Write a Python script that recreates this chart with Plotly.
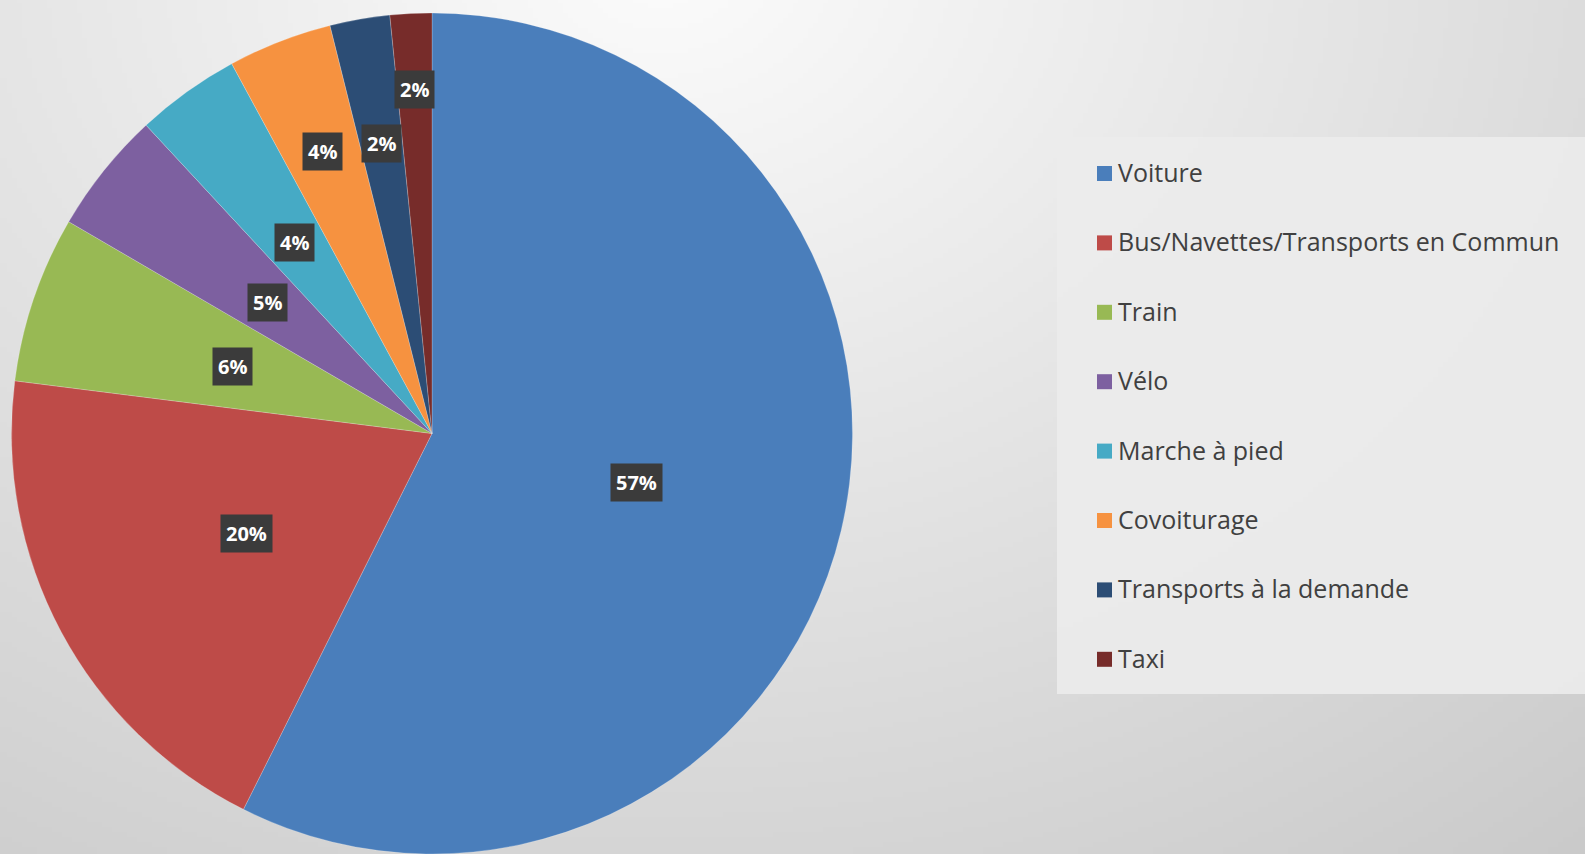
import math, zlib, struct, base64
import numpy as np
import plotly.graph_objects as go

# ---- data ----
categories = ["Voiture", "Bus/Navettes/Transports en Commun", "Train", "Vélo",
              "Marche à pied", "Covoiturage", "Transports à la demande", "Taxi"]
values = [57.4, 19.6, 6.4, 4.7, 4.0, 4.0, 2.3, 1.6]
colors = ["#4A7EBB", "#BE4B48", "#98B954", "#7D60A0", "#46AAC5", "#F69240", "#2C4D75", "#772C2A"]
label_radius = [0.5, 0.5, 0.5, 0.5, 0.56, 0.72, 0.70, 0.82]

W, H = 1585, 854
cx, cy, R = 432, 434, 421

# ---- background gradient image (PNG built by hand) ----
def gradient_png(w, h):
    xs = np.linspace(0, W, w)[None, :]
    ys = np.linspace(0, H, h)[:, None]
    dx = (xs - 660) * 0.034
    dy = (ys + 40) * 0.043
    v = 252 - np.sqrt(dx ** 2 + dy ** 2)
    v = np.clip(v, 190, 252).astype(np.uint8)
    rgb = np.stack([v, v, v], axis=-1)
    raw = b"".join(b"\x00" + rgb[r].tobytes() for r in range(h))
    def chunk(t, d):
        c = struct.pack(">I", len(d)) + t + d
        return c + struct.pack(">I", zlib.crc32(t + d) & 0xffffffff)
    png = b"\x89PNG\r\n\x1a\n" + chunk(b"IHDR", struct.pack(">IIBBBBB", w, h, 8, 2, 0, 0, 0)) \
        + chunk(b"IDAT", zlib.compress(raw, 9)) + chunk(b"IEND", b"")
    return "data:image/png;base64," + base64.b64encode(png).decode()

fig = go.Figure()
fig.add_trace(go.Pie(
    labels=categories, values=values, sort=False, direction="clockwise", rotation=0,
    marker=dict(colors=colors, line=dict(color="rgba(255,255,255,0.35)", width=0.6)),
    textinfo="none", hoverinfo="label+percent", showlegend=False,
    domain=dict(x=[(cx - R) / W, (cx + R) / W], y=[max(0, 1 - (cy + R) / H), 1 - (cy - R) / H]),
))

annotations = []
shapes = []
total = sum(values)
cum = 0.0
for i, v in enumerate(values):
    mid = 2 * math.pi * (cum + v / 2) / total
    cum += v
    px = cx + label_radius[i] * R * math.sin(mid)
    py = cy - label_radius[i] * R * math.cos(mid)
    annotations.append(dict(
        x=px / W, y=1 - py / H, xref="paper", yref="paper", showarrow=False,
        xanchor="center", yanchor="middle",
        text=f"{round(v / total * 100)}%", bgcolor="#3b3b3b", borderpad=5,
        font=dict(family="Open Sans", size=20, color="white", weight="bold"),
    ))

# legend box
shapes.append(dict(type="rect", xref="paper", yref="paper", layer="below",
                   x0=1057 / W, x1=1, y0=1 - 694 / H, y1=1 - 137 / H,
                   fillcolor="rgba(236,236,236,0.92)", line=dict(width=0)))
row0, step = 172, 69.4
for i, (name, col) in enumerate(zip(categories, colors)):
    ry = row0 + i * step
    shapes.append(dict(type="rect", xref="paper", yref="paper",
                       x0=1097 / W, x1=1112 / W, y0=1 - (ry + 9) / H, y1=1 - (ry - 6) / H,
                       fillcolor=col, line=dict(width=0)))
    annotations.append(dict(
        x=1116 / W, y=1 - ry / H, xref="paper", yref="paper", showarrow=False,
        xanchor="left", yanchor="middle", text=name,
        font=dict(family="Open Sans", size=25, color="#404040"),
    ))

fig.update_layout(
    width=W, height=H, margin=dict(l=0, r=0, t=0, b=0),
    paper_bgcolor="#e0e0e0", plot_bgcolor="#e0e0e0",
    annotations=annotations, shapes=shapes,
    images=[dict(source=gradient_png(317, 171), xref="paper", yref="paper",
                 x=0, y=1, sizex=1, sizey=1, sizing="stretch", layer="below")],
)
fig.write_html("out.html", config={"displayModeBar": False},
               post_script="document.body.style.margin='0';document.body.style.overflow='hidden';")
